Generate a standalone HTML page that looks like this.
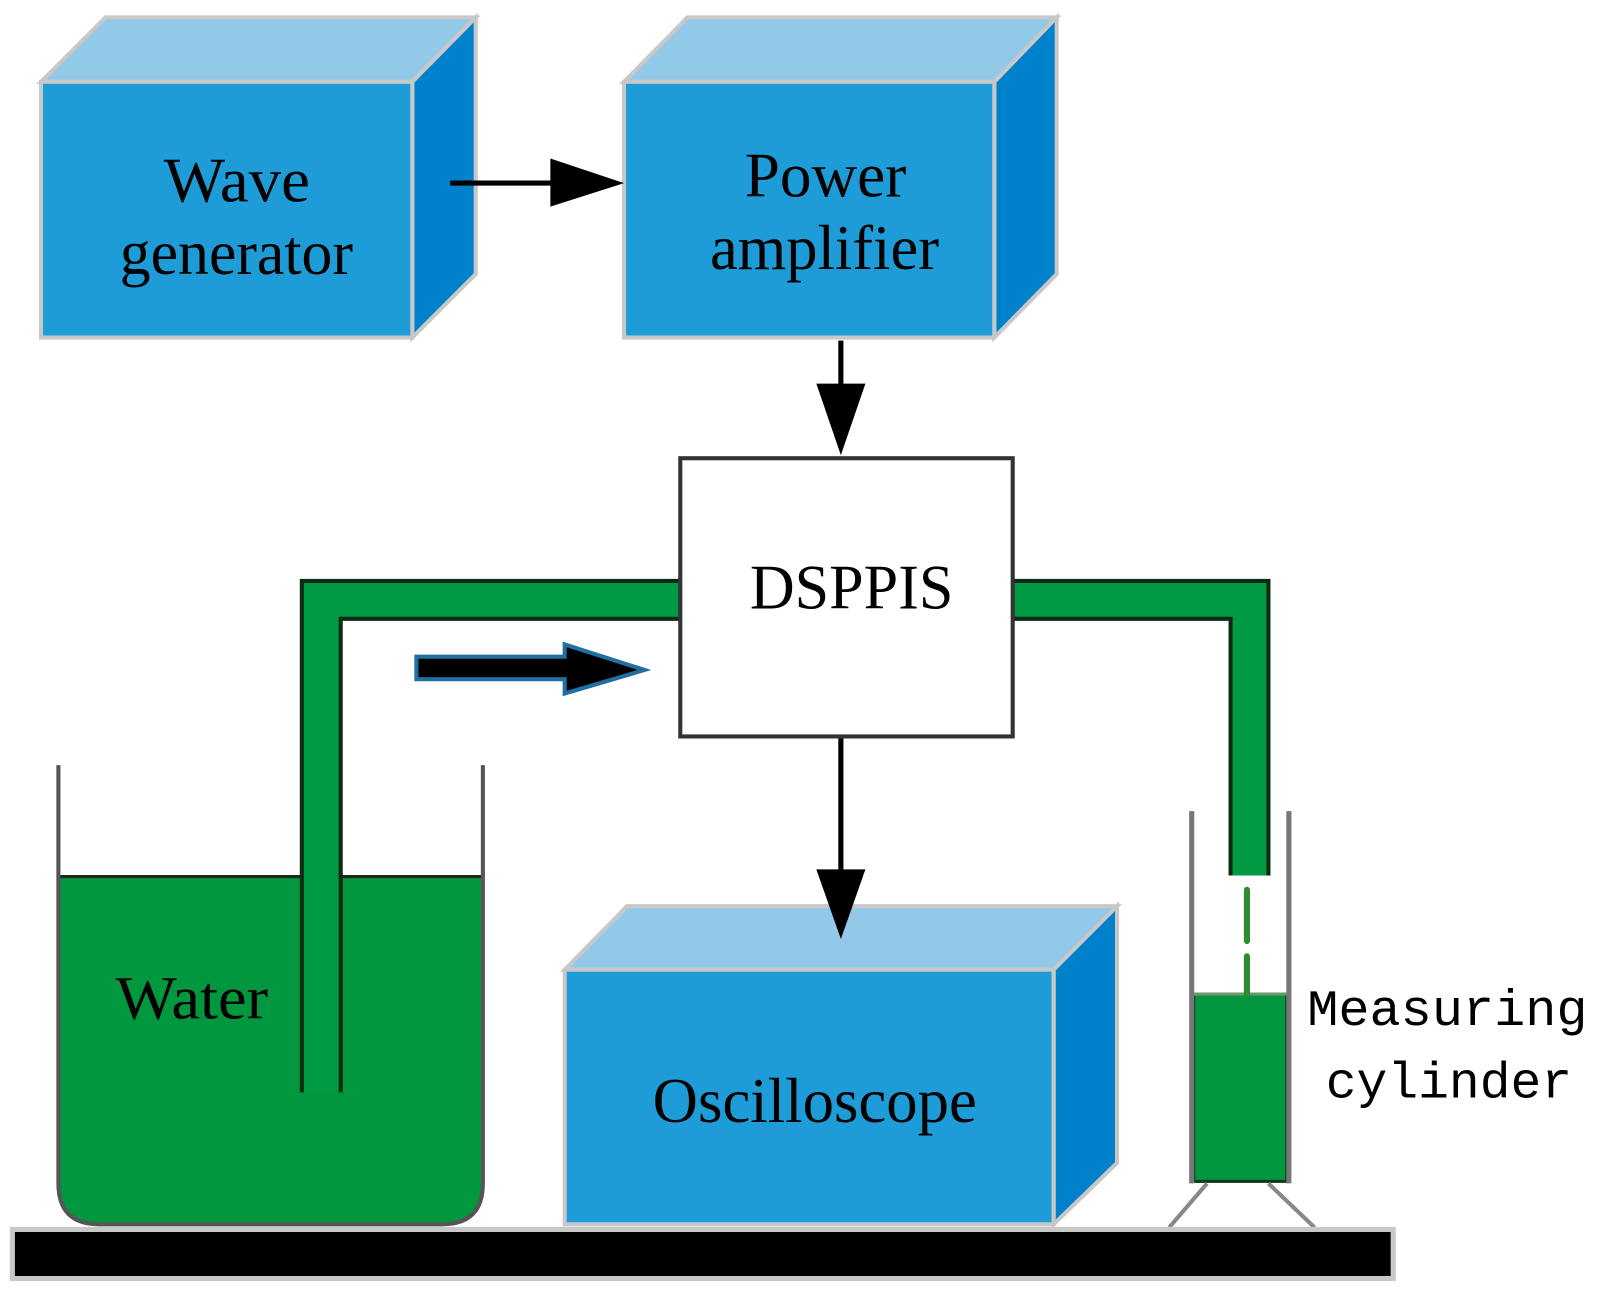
<!DOCTYPE html>
<html><head><meta charset="utf-8"><style>html,body{margin:0;padding:0;background:#fff}svg{display:block}</style></head><body>
<svg width="1604" height="1299" viewBox="0 0 1568 1270" xmlns="http://www.w3.org/2000/svg">
<g stroke="#c8c8c8" stroke-width="4" stroke-linejoin="miter">
<polygon points="40,80 103,17 465,17 403,80" fill="#93c9e8"/>
<polygon points="403,80 465,17 465,268 403,330" fill="#0081cc"/>
<rect x="40" y="80" width="363" height="250" fill="#1e9cd7"/>
<polygon points="610,80 672,17 1033,17 972,80" fill="#93c9e8"/>
<polygon points="972,80 1033,17 1033,268 972,330" fill="#0081cc"/>
<rect x="610" y="80" width="362" height="250" fill="#1e9cd7"/>
<polygon points="552,948 613,886 1092,886 1030,948" fill="#93c9e8"/>
<polygon points="1030,948 1092,886 1092,1137 1030,1197" fill="#0081cc"/>
<rect x="552" y="948" width="478" height="249" fill="#1e9cd7"/>
</g>
<g font-family="Liberation Serif, serif" font-size="62" fill="#000">
<text x="160" y="197" textLength="143" lengthAdjust="spacingAndGlyphs">Wave</text>
<text x="117" y="268" textLength="228" lengthAdjust="spacingAndGlyphs">generator</text>
<text x="728" y="192" textLength="158" lengthAdjust="spacingAndGlyphs">Power</text>
<text x="694" y="263" textLength="224" lengthAdjust="spacingAndGlyphs">amplifier</text>
<text x="638" y="1097" textLength="317" lengthAdjust="spacingAndGlyphs">Oscilloscope</text>
</g>
<line x1="440" y1="179" x2="545" y2="179" stroke="#000" stroke-width="5"/>
<polygon points="538,155 610,179 538,202" fill="#000"/>
<line x1="822" y1="333" x2="822" y2="380" stroke="#000" stroke-width="5"/>
<polygon points="798,375 846,375 822,445" fill="#000"/>
<line x1="822" y1="722" x2="822" y2="855" stroke="#000" stroke-width="5"/>
<polygon points="798,850 846,850 822,918" fill="#000"/>
<path d="M57,857 H472 V1157 Q472,1197 432,1197 H97 Q57,1197 57,1157 Z" fill="#00973f"/>
<line x1="57" y1="857" x2="472" y2="857" stroke="#1a2a1a" stroke-width="3"/>
<path d="M57,748 V1157 Q57,1197 97,1197 H432 Q472,1197 472,1157 V748" fill="none" stroke="#555" stroke-width="4"/>
<path d="M295,1068 V568 H665 V605 H333 V1068 Z" fill="#009a44"/>
<path d="M295,1068 V568 H665 M665,605 H333 V1068" fill="none" stroke="#0d2a12" stroke-width="4"/>
<path d="M990,568 H1240 V856 H1203 V605 H990 Z" fill="#009a44"/>
<path d="M990,568 H1240 V856 M1203,856 V605 H990" fill="none" stroke="#0d2a12" stroke-width="4"/>
<rect x="665" y="448" width="325" height="272" fill="#fff" stroke="#333" stroke-width="4"/>
<text x="733" y="595" font-family="Liberation Serif, serif" font-size="62" textLength="199" lengthAdjust="spacingAndGlyphs">DSPPIS</text>
<text x="113" y="996" font-family="Liberation Serif, serif" font-size="60" textLength="149" lengthAdjust="spacingAndGlyphs">Water</text>
<polygon points="407,642 552,642 552,630 630,655 552,678 552,664 407,664" fill="#000" stroke="#1f6fa0" stroke-width="4"/>
<rect x="1167" y="972" width="91" height="183" fill="#00973f" stroke="#0d3a18" stroke-width="3"/>
<line x1="1167" y1="972" x2="1258" y2="972" stroke="#6a9a70" stroke-width="3"/>
<line x1="1165" y1="793" x2="1165" y2="1157" stroke="#777" stroke-width="5"/>
<line x1="1260" y1="793" x2="1260" y2="1157" stroke="#777" stroke-width="5"/>
<line x1="1219" y1="870" x2="1219" y2="920" stroke="#2e8b2e" stroke-width="6" stroke-linecap="round"/>
<line x1="1219" y1="935" x2="1219" y2="972" stroke="#2e8b2e" stroke-width="6" stroke-linecap="round"/>
<line x1="1180" y1="1157" x2="1143" y2="1200" stroke="#888" stroke-width="4"/>
<line x1="1240" y1="1157" x2="1285" y2="1200" stroke="#888" stroke-width="4"/>
<rect x="12" y="1202" width="1350" height="48" fill="#000" stroke="#c8c8c8" stroke-width="5"/>
<g font-family="Liberation Mono, monospace" font-size="50" fill="#000">
<text x="1278" y="1002" textLength="274" lengthAdjust="spacingAndGlyphs">Measuring</text>
<text x="1296" y="1073" textLength="241" lengthAdjust="spacingAndGlyphs">cylinder</text>
</g>
</svg>
</body></html>
